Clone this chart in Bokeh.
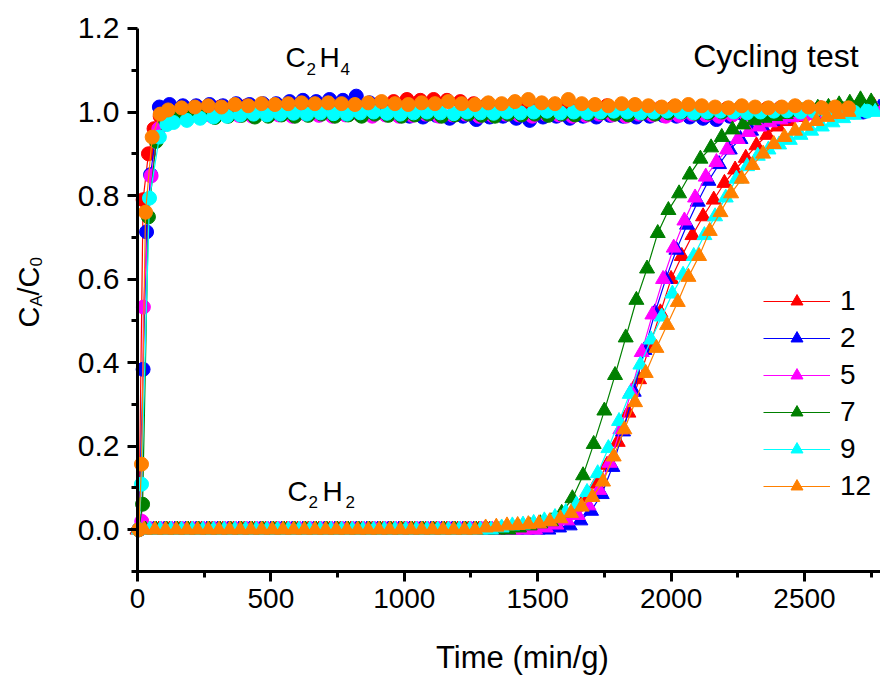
import math
from bokeh.plotting import figure
from bokeh.models import (Range1d, FixedTicker, NumeralTickFormatter, Legend,
                          LegendItem, Label, LinearAxis)
from bokeh.embed import file_html
from bokeh.resources import INLINE

# ---------------- data ----------------
series_labels = ["1", "2", "5", "7", "9", "12"]
series_colors = ["#FF0000", "#0000FF", "#FF00FF", "#008000", "#00FFFF", "#FF8000"]

x_ticks = [0, 500, 1000, 1500, 2000, 2500]
x_minor = [250, 750, 1250, 1750, 2250, 2750]
y_ticks = [0.0, 0.2, 0.4, 0.6, 0.8, 1.0, 1.2]
y_minor = [-0.1, 0.1, 0.3, 0.5, 0.7, 0.9, 1.1]

# C2H2 breakthrough (triangles)
t_c2h2_1 = [0, 40, 80, 120, 160, 200, 240, 280, 320, 360,
            400, 440, 480, 520, 560, 600, 640, 680, 720, 760,
            800, 840, 880, 920, 960, 1000, 1040, 1080, 1120, 1160,
            1200, 1240, 1280, 1320, 1360, 1400, 1440, 1480, 1520, 1560,
            1600, 1640, 1680, 1720, 1760, 1800, 1840, 1880, 1920, 1960,
            2000, 2040, 2080, 2120, 2160, 2200, 2240, 2280, 2320, 2360,
            2400, 2440, 2480, 2520, 2560, 2600, 2640, 2680, 2720, 2760]
c2h2_1 = [0.0, 0.0, 0.0, 0.0, 0.0, 0.0, 0.0, 0.0, 0.0, 0.0,
          0.0, 0.0, 0.0, 0.0, 0.0, 0.0, 0.0, 0.0, 0.0, 0.0,
          0.0, 0.0, 0.0, 0.0, 0.0, 0.0, 0.0, 0.0, 0.0, 0.0,
          0.0, 0.0, 0.0, 0.0, 0.0, 0.0,
          0.005, 0.008, 0.013, 0.02, 0.035, 0.055, 0.078, 0.11, 0.155, 0.21,
          0.28, 0.36, 0.44, 0.52, 0.60, 0.655, 0.705, 0.75, 0.79, 0.83,
          0.862, 0.89, 0.92, 0.945, 0.965, 0.978, 0.988, 0.995, 1.0, 1.0,
          1.005, 1.01, 1.01, 1.015]

t_c2h2_2 = [20, 60, 100, 140, 180, 220, 260, 300, 340, 380,
            420, 460, 500, 540, 580, 620, 660, 700, 740, 780,
            820, 860, 900, 940, 980, 1020, 1060, 1100, 1140, 1180,
            1220, 1260, 1300, 1340, 1380, 1420, 1460, 1500, 1540, 1580,
            1620, 1660, 1700, 1740, 1780, 1820, 1860, 1900, 1940, 1980,
            2020, 2060, 2100, 2140, 2180, 2220, 2260, 2300, 2340, 2380,
            2420, 2460, 2500, 2540, 2580, 2620, 2660, 2700, 2740, 2780]
c2h2_2 = [0.0, 0.0, 0.0, 0.0, 0.0, 0.0, 0.0, 0.0, 0.0, 0.0,
          0.0, 0.0, 0.0, 0.0, 0.0, 0.0, 0.0, 0.0, 0.0, 0.0,
          0.0, 0.0, 0.0, 0.0, 0.0, 0.0, 0.0, 0.0, 0.0, 0.0,
          0.0, 0.0, 0.0, 0.0, 0.0, 0.0, 0.0, 0.0, 0.0,
          0.005, 0.01, 0.022, 0.045, 0.085, 0.15, 0.235, 0.33, 0.43, 0.52,
          0.60, 0.67, 0.73, 0.785, 0.835, 0.875, 0.91, 0.935, 0.955, 0.968,
          0.978, 0.985, 0.99, 0.993, 0.996, 1.0, 1.0, 1.003, 1.005, 1.01,
          1.01]

t_c2h2_5 = [10, 50, 90, 130, 170, 210, 250, 290, 330, 370,
            410, 450, 490, 530, 570, 610, 650, 690, 730, 770,
            810, 850, 890, 930, 970, 1010, 1050, 1090, 1130, 1170,
            1210, 1250, 1290, 1330, 1370, 1410, 1450, 1490, 1530, 1570,
            1610, 1650, 1690, 1730, 1770, 1810, 1850, 1890, 1930, 1970,
            2010, 2050, 2090, 2130, 2170, 2210, 2250, 2290, 2330, 2370,
            2410, 2450, 2490, 2530, 2570, 2610, 2650, 2690, 2730, 2770]
c2h2_5 = [0.0, 0.0, 0.0, 0.0, 0.0, 0.0, 0.0, 0.0, 0.0, 0.0,
          0.0, 0.0, 0.0, 0.0, 0.0, 0.0, 0.0, 0.0, 0.0, 0.0,
          0.0, 0.0, 0.0, 0.0, 0.0, 0.0, 0.0, 0.0, 0.0, 0.0,
          0.0, 0.0, 0.0, 0.0, 0.0, 0.0, 0.0, 0.0,
          0.005, 0.012, 0.022, 0.035, 0.058, 0.095, 0.16, 0.24, 0.33, 0.425,
          0.515, 0.60, 0.675, 0.74, 0.795, 0.845, 0.88, 0.91, 0.935, 0.952,
          0.965, 0.975, 0.982, 0.987, 0.99, 0.993, 0.996, 1.0, 1.0, 1.003,
          1.005, 1.005]

t_c2h2_7 = [30, 70, 110, 150, 190, 230, 270, 310, 350, 390,
            430, 470, 510, 550, 590, 630, 670, 710, 750, 790,
            830, 870, 910, 950, 990, 1030, 1070, 1110, 1150, 1190,
            1230, 1270, 1310, 1350, 1390, 1430, 1470, 1510, 1550, 1590,
            1630, 1670, 1710, 1750, 1790, 1830, 1870, 1910, 1950, 1990,
            2030, 2070, 2110, 2150, 2190, 2230, 2270, 2310, 2350, 2390,
            2430, 2470, 2510, 2550, 2590, 2630, 2670, 2710, 2750]
c2h2_7 = [0.0, 0.0, 0.0, 0.0, 0.0, 0.0, 0.0, 0.0, 0.0, 0.0,
          0.0, 0.0, 0.0, 0.0, 0.0, 0.0, 0.0, 0.0, 0.0, 0.0,
          0.0, 0.0, 0.0, 0.0, 0.0, 0.0, 0.0, 0.0, 0.0, 0.0,
          0.0, 0.0, 0.0, 0.0, 0.0,
          0.005, 0.01, 0.015, 0.02, 0.04, 0.075, 0.13, 0.205, 0.285, 0.37,
          0.46, 0.55, 0.625, 0.71, 0.765, 0.805, 0.85, 0.888, 0.915, 0.94,
          0.958, 0.97, 0.98, 0.986, 0.99, 0.995, 1.0, 1.005, 1.01, 1.012,
          1.018, 1.022, 1.03, 1.025]

t_c2h2_9 = [5, 45, 85, 125, 165, 205, 245, 285, 325, 365,
            405, 445, 485, 525, 565, 605, 645, 685, 725, 765,
            805, 845, 885, 925, 965, 1005, 1045, 1085, 1125, 1165,
            1205, 1245, 1285, 1325, 1365, 1405, 1445, 1485, 1525, 1565,
            1605, 1645, 1685, 1725, 1765, 1805, 1845, 1885, 1925, 1965,
            2005, 2045, 2085, 2125, 2165, 2205, 2245, 2285, 2325, 2365,
            2405, 2445, 2485, 2525, 2565, 2605, 2645, 2685, 2725, 2765]
c2h2_9 = [0.0, 0.0, 0.0, 0.0, 0.0, 0.0, 0.0, 0.0, 0.0, 0.0,
          0.0, 0.0, 0.0, 0.0, 0.0, 0.0, 0.0, 0.0, 0.0, 0.0,
          0.0, 0.0, 0.0, 0.0, 0.0, 0.0, 0.0, 0.0, 0.0, 0.0,
          0.0, 0.0, 0.0, 0.0,
          0.005, 0.01, 0.012, 0.016, 0.022, 0.03, 0.042, 0.06, 0.09, 0.135,
          0.195, 0.26, 0.325, 0.395, 0.455, 0.51, 0.565, 0.61, 0.655, 0.705,
          0.75, 0.795, 0.84, 0.87, 0.895, 0.91, 0.922, 0.933, 0.945, 0.955,
          0.965, 0.975, 0.985, 0.993, 1.0, 1.0]

t_c2h2_12 = [25, 65, 105, 145, 185, 225, 265, 305, 345, 385,
             425, 465, 505, 545, 585, 625, 665, 705, 745, 785,
             825, 865, 905, 945, 985, 1025, 1065, 1105, 1145, 1185,
             1225, 1265, 1305, 1345, 1385, 1425, 1465, 1505, 1545, 1585,
             1625, 1665, 1705, 1745, 1785, 1825, 1865, 1905, 1945, 1985,
             2025, 2065, 2105, 2145, 2185, 2225, 2265, 2305, 2345, 2385,
             2425, 2465, 2505, 2545, 2585, 2625, 2665]
c2h2_12 = [0.0, 0.0, 0.0, 0.0, 0.0, 0.0, 0.0, 0.0, 0.0, 0.0,
           0.0, 0.0, 0.0, 0.0, 0.0, 0.0, 0.0, 0.0, 0.0, 0.0,
           0.0, 0.0, 0.0, 0.0, 0.0, 0.0, 0.0, 0.0, 0.0, 0.0,
           0.0, 0.0,
           0.005, 0.007, 0.01, 0.011, 0.013, 0.015, 0.02, 0.027, 0.04, 0.055,
           0.078, 0.115, 0.175, 0.24, 0.305, 0.375, 0.435, 0.49, 0.545, 0.605,
           0.655, 0.715, 0.76, 0.805, 0.84, 0.873, 0.9, 0.923, 0.94, 0.955,
           0.967, 0.978, 0.988, 0.995, 1.0]

# C2H4 (circles)
t_c2h4_1 = [5, 21, 41, 62, 85,
            110, 160, 210, 260, 310, 360, 410, 460, 510, 560,
            610, 660, 710, 760, 810, 860, 910, 960, 1010, 1060,
            1110, 1160, 1210, 1260, 1310, 1360, 1410, 1460, 1510, 1560,
            1610, 1660, 1710, 1760, 1810, 1860, 1910, 1960, 2010, 2060,
            2110, 2160, 2210, 2260, 2310, 2360, 2410, 2460, 2510, 2560,
            2610, 2660, 2710]
c2h4_1 = [0.0, 0.79, 0.90, 0.96, 0.99,
          1.0, 1.005, 1.01, 1.008, 1.012, 1.01, 1.015, 1.012, 1.01, 1.015,
          1.018, 1.015, 1.02, 1.018, 1.02, 1.018, 1.022, 1.025, 1.03, 1.028,
          1.03, 1.028, 1.025, 1.02, 1.018, 1.015, 1.02, 1.018, 1.015, 1.012,
          1.015, 1.01, 1.012, 1.015, 1.01, 1.012, 1.008, 1.01, 1.012, 1.008,
          1.01, 1.005, 1.008, 1.01, 1.005, 1.008, 1.01, 1.005, 1.008, 1.01,
          1.005, 1.008, 1.01]

t_c2h4_2 = [5, 21, 34, 49, 82,
            120, 170, 220, 270, 320, 370, 420, 470, 520, 570,
            620, 670, 720, 770, 820, 870, 920, 970, 1020, 1070,
            1120, 1170, 1220, 1270, 1320, 1370, 1420, 1470, 1520, 1570,
            1620, 1670, 1720, 1770, 1820, 1870, 1920, 1970, 2020, 2070,
            2120, 2170, 2220, 2270, 2320, 2370, 2420, 2470, 2520, 2570,
            2620, 2670, 2720]
c2h4_2 = [0.0, 0.384, 0.713, 0.85, 1.012,
          1.018, 1.015, 1.015, 1.018, 1.015, 1.02, 1.018, 1.02, 1.02, 1.025,
          1.028, 1.025, 1.03, 1.028, 1.038, 1.022, 1.005, 0.995, 0.99, 0.988,
          0.992, 0.985, 0.99, 0.982, 0.988, 0.99, 0.985, 0.98, 0.988, 0.99,
          0.985, 0.99, 0.988, 0.992, 0.99, 0.988, 0.99, 0.992, 0.99, 0.988,
          0.985, 0.982, 0.99, 0.995, 0.998, 1.0, 0.998, 1.0, 1.002, 1.0,
          1.0, 1.002, 1.0]

t_c2h4_5 = [5, 16, 22, 51, 80, 105,
            130, 180, 230, 280, 330, 380, 430, 480, 530, 580,
            630, 680, 730, 780, 830, 880, 930, 980, 1030, 1080,
            1130, 1180, 1230, 1280, 1330, 1380, 1430, 1480, 1530, 1580,
            1630, 1680, 1730, 1780, 1830, 1880, 1930, 1980, 2030, 2080,
            2130, 2180, 2230, 2280, 2330, 2380, 2430, 2480, 2530, 2580,
            2630, 2680]
c2h4_5 = [0.0, 0.02, 0.533, 0.847, 0.96, 0.98,
          0.985, 0.99, 0.992, 0.99, 0.995, 0.992, 0.99, 0.995, 0.993, 0.99,
          0.995, 0.992, 0.99, 0.993, 0.995, 0.99, 0.993, 0.99, 0.992, 0.995,
          0.99, 0.993, 0.995, 0.99, 0.992, 0.995, 0.993, 0.99, 0.995, 0.993,
          0.99, 0.992, 0.995, 0.993, 0.99, 0.995, 0.993, 0.99, 0.992, 0.995,
          0.993, 0.99, 0.993, 0.995, 0.997, 0.995, 0.998, 1.0, 0.998, 1.0,
          1.0, 1.002]

t_c2h4_7 = [5, 19, 41, 70, 105,
            140, 190, 240, 290, 340, 390, 440, 490, 540, 590,
            640, 690, 740, 790, 840, 890, 940, 990, 1040, 1090,
            1140, 1190, 1240, 1290, 1340, 1390, 1440, 1490, 1540, 1590,
            1640, 1690, 1740, 1790, 1840, 1890, 1940, 1990, 2040, 2090,
            2140, 2190, 2240, 2290, 2340, 2390, 2440, 2490, 2540, 2590,
            2640, 2690, 2740]
c2h4_7 = [0.0, 0.061, 0.749, 0.93, 0.98,
          0.985, 0.988, 0.99, 0.987, 0.99, 0.992, 0.988, 0.99, 0.993, 0.99,
          0.992, 0.995, 0.99, 0.993, 0.99, 0.995, 0.992, 0.99, 0.993, 0.995,
          0.99, 0.993, 0.995, 0.992, 0.99, 0.995, 0.993, 0.995, 0.992, 0.995,
          0.993, 0.995, 0.998, 0.995, 0.993, 0.997, 0.995, 0.998, 1.0, 0.997,
          0.998, 1.0, 1.002, 1.0, 0.998, 1.0, 1.003, 1.005, 1.003, 1.005,
          1.008, 1.01, 1.012]

t_c2h4_9 = [5, 15, 45, 82, 110,
            135, 185, 235, 285, 335, 385, 435, 485, 535, 585,
            635, 685, 735, 785, 835, 885, 935, 985, 1035, 1085,
            1135, 1185, 1235, 1285, 1335, 1385, 1435, 1485, 1535, 1585,
            1635, 1685, 1735, 1785, 1835, 1885, 1935, 1985, 2035, 2085,
            2135, 2185, 2235, 2285, 2335, 2385, 2435, 2485, 2535, 2585,
            2635, 2685, 2735]
c2h4_9 = [0.0, 0.109, 0.794, 0.94, 0.97,
          0.975, 0.98, 0.985, 0.988, 0.99, 0.993, 0.995, 0.993, 0.995, 0.997,
          0.995, 0.998, 0.996, 0.995, 0.998, 1.0, 0.997, 0.995, 0.998, 1.0,
          0.998, 0.996, 1.0, 0.998, 0.997, 1.0, 0.998, 1.0, 1.002, 0.998,
          1.0, 0.998, 1.0, 1.002, 1.0, 0.998, 1.0, 1.002, 1.0, 0.998,
          1.0, 1.002, 1.0, 0.998, 1.0, 1.002, 1.003, 1.0, 1.002, 1.0,
          0.998, 1.0, 1.002]

t_c2h4_12 = [5, 15, 30, 55, 85,
             115, 165, 215, 265, 315, 365, 415, 465, 515, 565,
             615, 665, 715, 765, 815, 865, 915, 965, 1015, 1065,
             1115, 1165, 1215, 1265, 1315, 1365, 1415, 1465, 1515, 1565,
             1615, 1665, 1715, 1765, 1815, 1865, 1915, 1965, 2015, 2065,
             2115, 2165, 2215, 2265, 2315, 2365, 2415, 2465, 2515, 2565,
             2615, 2665]
c2h4_12 = [0.0, 0.157, 0.76, 0.94, 0.995,
           1.005, 1.01, 1.012, 1.015, 1.012, 1.018, 1.015, 1.02, 1.018, 1.02,
           1.022, 1.02, 1.022, 1.02, 1.018, 1.022, 1.025, 1.02, 1.018, 1.022,
           1.02, 1.025, 1.02, 1.018, 1.022, 1.02, 1.025, 1.03, 1.022, 1.02,
           1.03, 1.02, 1.018, 1.015, 1.02, 1.018, 1.015, 1.012, 1.015, 1.018,
           1.015, 1.012, 1.01, 1.015, 1.012, 1.01, 1.012, 1.015, 1.012, 1.01,
           1.012, 1.01]

tri_t = [t_c2h2_1, t_c2h2_2, t_c2h2_5, t_c2h2_7, t_c2h2_9, t_c2h2_12]
tri_v = [c2h2_1, c2h2_2, c2h2_5, c2h2_7, c2h2_9, c2h2_12]
cir_t = [t_c2h4_1, t_c2h4_2, t_c2h4_5, t_c2h4_7, t_c2h4_9, t_c2h4_12]
cir_v = [c2h4_1, c2h4_2, c2h4_5, c2h4_7, c2h4_9, c2h4_12]

FONT = "Liberation Sans"

# ---------------- figure ----------------
# The frame fills the whole canvas; the axes are pinned at x=0 and y=-0.1
# so that the texts around them are not clipped.
p = figure(width=880, height=676, output_backend="svg", toolbar_location=None,
           title=None, x_axis_location=None, y_axis_location=None,
           x_range=Range1d(-513.5, 2785), y_range=Range1d(-0.3514, 1.2670),
           min_border_left=0, min_border_right=0, min_border_top=0,
           min_border_bottom=0)
p.outline_line_color = None
p.grid.visible = False
p.background_fill_color = "white"
p.border_fill_color = "white"

xaxis = LinearAxis(fixed_location=-0.1, bounds=(-18, 2785),
                   ticker=FixedTicker(ticks=x_ticks, minor_ticks=x_minor))
yaxis = LinearAxis(fixed_location=0, bounds=(-0.113, 1.2),
                   ticker=FixedTicker(ticks=y_ticks, minor_ticks=y_minor),
                   formatter=NumeralTickFormatter(format="0.0"))
for ax in (xaxis, yaxis):
    ax.axis_line_width = 3
    ax.axis_line_color = "black"
    ax.major_tick_line_width = 3
    ax.major_tick_line_color = "black"
    ax.minor_tick_line_width = 3
    ax.minor_tick_line_color = "black"
    ax.major_tick_in = 0
    ax.major_tick_out = 10
    ax.minor_tick_in = 0
    ax.minor_tick_out = 6
    ax.major_label_text_font = FONT
    ax.major_label_text_color = "black"
    ax.major_label_standoff = 8
yaxis.major_label_text_font_size = "30px"
xaxis.major_label_text_font_size = "28px"

legend_items = []
for i, name in enumerate(series_labels):
    c = series_colors[i]
    p.line(cir_t[i], cir_v[i], line_color=c, line_width=1.2)
    p.scatter(cir_t[i], cir_v[i], marker="circle", size=14,
              fill_color=c, line_color=c)
    lr = p.line(tri_t[i], tri_v[i], line_color=c, line_width=1.2)
    sr = p.scatter(tri_t[i], tri_v[i], marker="triangle", size=15,
                   fill_color=c, line_color=c)
    legend_items.append(LegendItem(label=name, renderers=[lr, sr]))

p.add_layout(xaxis, "below")
p.add_layout(yaxis, "left")

legend = Legend(items=legend_items, location=(763, 174),
                border_line_color=None, background_fill_alpha=0,
                label_text_font=FONT, label_text_font_size="28px",
                label_text_color="black",
                glyph_width=67, glyph_height=30, label_height=30,
                label_standoff=10, spacing=5, padding=0, margin=0)
p.add_layout(legend)


def add_text(txt, x, y, size, align="left", angle=0.0):
    p.add_layout(Label(x=x, y=y, text=txt, text_font=FONT,
                       text_font_size=size, text_color="black",
                       text_align=align, text_baseline="alphabetic",
                       angle=angle))

# C2H4 annotation
add_text("C", 554.7, 1.1306, "28px")
add_text("2", 633.5, 1.1042, "17px")
add_text("H", 682.2, 1.1306, "28px")
add_text("4", 760.9, 1.1042, "17px")
# C2H2 annotation
add_text("C", 562.2, 0.0915, "28px")
add_text("2", 641.0, 0.0652, "17px")
add_text("H", 693.4, 0.0915, "28px")
add_text("2", 779.6, 0.0652, "17px")
# corner annotation
add_text("Cycling test", 2393, 1.133, "32px", align="center")
# x axis title
add_text("Time (min/g)", 1443, -0.3059, "31px", align="center")
# y axis title C_A/C_0 (rotated)
rot = math.pi / 2
add_text("C", -406.7, 0.4842, "29px", angle=rot)
add_text("A", -378.6, 0.5345, "17px", angle=rot)
add_text("/", -406.7, 0.5608, "29px", angle=rot)
add_text("C", -406.7, 0.5799, "29px", angle=rot)
add_text("0", -378.6, 0.6302, "17px", angle=rot)

open("out.html", "w").write(file_html(p, INLINE))
